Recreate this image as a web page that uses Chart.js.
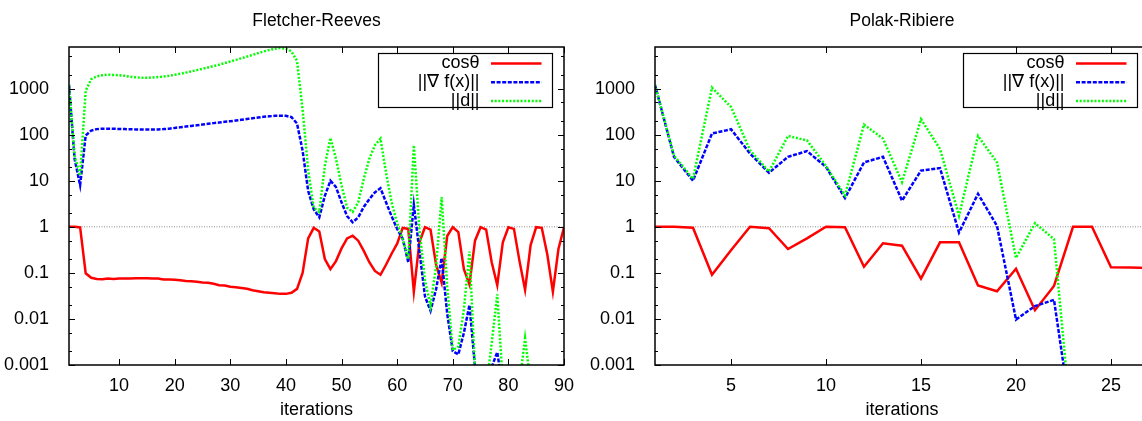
<!DOCTYPE html>
<html>
<head>
<meta charset="utf-8">
<script src="https://cdn.jsdelivr.net/npm/chart.js@4.4.1/dist/chart.umd.min.js"></script>
<style>
  html, body { margin: 0; padding: 0; background: #fff; overflow: hidden; }
  body { width: 1142px; height: 421px; position: relative; }
  .panel { position: absolute; top: 0; }
</style>
</head>
<body>
<div class="panel" style="left:0"><canvas id="fr" width="580" height="421"></canvas></div>
<div class="panel" style="left:585px"><canvas id="pr" width="580" height="421"></canvas></div>
<script>
// Fletcher-Reeves, iterations 1..90
const frCos = [1.0, 1.0, 0.97, 0.098, 0.078, 0.074, 0.073, 0.075, 0.074, 0.075,
  0.075, 0.075, 0.076, 0.076, 0.076, 0.075, 0.075, 0.072, 0.072, 0.071,
  0.069, 0.067, 0.066, 0.064, 0.062, 0.061, 0.058, 0.054, 0.053, 0.050,
  0.049, 0.047, 0.045, 0.042, 0.040, 0.038, 0.037, 0.036, 0.035, 0.035,
  0.037, 0.045, 0.10, 0.56, 0.95, 0.79, 0.20, 0.12, 0.18, 0.34,
  0.56, 0.64, 0.50, 0.30, 0.17, 0.11, 0.091, 0.15, 0.26, 0.43,
  0.95, 0.90, 0.039, 0.46, 0.98, 0.87, 0.15, 0.061, 0.63, 0.98,
  0.77, 0.12, 0.056, 0.50, 0.98, 0.87, 0.17, 0.054, 0.46, 0.98,
  0.90, 0.18, 0.043, 0.40, 0.98, 0.95, 0.25, 0.039, 0.33, 0.98];
const frGrad = [1200, 30, 8, 96, 123, 132, 135, 135, 134, 133,
  132, 131, 130, 129, 129, 129, 130, 132, 135, 140,
  145, 150, 155, 160, 166, 172, 178, 184, 190, 196,
  203, 211, 219, 228, 236, 244, 250, 256, 258, 256,
  240, 175, 45, 6, 2.4, 1.6, 4.7, 10, 7.3, 3.4,
  1.7, 1.25, 1.6, 2.7, 4, 5.6, 6.9, 3.4, 1.7, 0.9,
  0.55, 0.17, 3.0, 0.3, 0.031, 0.015, 0.044, 0.21, 0.013, 0.002,
  0.0017, 0.005, 0.02, 0.0009, 0.0002, 0.0001, 0.0009, 0.0019, 0.0003, 0.0002,
  0.0001, 0.0001, 0.00008, 0.00008, 0.00006, 0.00005, 0.00005, 0.00004, 0.00004, 0.00003];
const frDir = [1200, 35, 13, 900, 1600, 1850, 1950, 2000, 1980, 1950,
  1900, 1800, 1760, 1720, 1720, 1740, 1780, 1830, 1900, 1990,
  2100, 2220, 2370, 2520, 2690, 2880, 3080, 3300, 3580, 3880,
  4200, 4550, 4950, 5400, 5900, 6400, 6900, 7300, 7600, 7400,
  6400, 4000, 350, 17, 2.6, 2.1, 21, 85, 30, 7.9,
  2.6, 2.1, 3.4, 11, 30, 59, 82, 15, 3.4, 1.2,
  0.54, 0.2, 59, 0.9, 0.07, 0.019, 0.14, 4.4, 0.05, 0.0021,
  0.0025, 0.016, 0.29, 0.0008, 0.0002, 0.0003, 0.003, 0.034, 0.0004, 0.0002,
  0.0001, 0.0004, 0.0038, 0.0004, 0.0001, 0.0001, 0.00008, 0.00006, 0.00005, 0.00004];

// Polak-Ribiere, iterations 1..27
const prCos = [1.0, 1.0, 0.95, 0.091, 0.31, 1.0, 0.93, 0.33, 0.56, 1.0,
  0.98, 0.136, 0.44, 0.39, 0.075, 0.46, 0.46, 0.053, 0.040, 0.123,
  0.0155, 0.052, 1.0, 1.0, 0.132, 0.13, 0.128];
const prGrad = [1200, 33, 10, 106, 131, 39, 14.9, 33, 44, 20,
  4.2, 25, 33, 3.7, 16.6, 18.8, 0.75, 5.2, 1.05, 0.0097,
  0.019, 0.026, 0.00004, 0.00002, 0.00001, 0.00001, 0.00001];
const prDir = [1200, 35, 11, 1050, 400, 46, 15.8, 94, 75, 21,
  4.8, 166, 82, 9.3, 217, 49, 1.74, 94, 25, 0.21,
  1.2, 0.54, 0.00002, 0.00001, 0.00001, 0.00001, 0.00001];

const frXTicks = [10, 20, 30, 40, 50, 60, 70, 80, 90];
const prXTicks = [5, 10, 15, 20, 25];
const yTicks = [0.001, 0.01, 0.1, 1, 10, 100, 1000];
const yMinorTicks = [0.002, 0.005, 0.02, 0.05, 0.2, 0.5, 2, 5, 20, 50, 200, 500, 2000, 5000];
const legendLabels = ['cosθ', '||∇ f(x)||', '||d||'];

const FONT = '"Liberation Sans", Arial, Helvetica, sans-serif';
const RED = '#ff0000', BLUE = '#0000ff', GREEN = '#00ff00';
const DASH_BLUE = [4, 1.6], DASH_GREEN = [2, 1.7];

// gnuplot-like frame: inward ticks on all sides, border, titles, key box
const gnuFrame = {
  id: 'gnuFrame',
  afterDatasetsDraw(chart, args, opts) {
    const { ctx, chartArea: a, scales: { x, y } } = chart;
    ctx.save();
    ctx.strokeStyle = '#000';
    ctx.lineWidth = 1;
    ctx.setLineDash([]);
    ctx.beginPath();
    const yTick = (v, len) => {
      const p = Math.round(y.getPixelForValue(v)) + 0.5;
      ctx.moveTo(a.left, p); ctx.lineTo(a.left + len, p);
      ctx.moveTo(a.right, p); ctx.lineTo(a.right - len, p);
    };
    yTicks.forEach(v => yTick(v, 6));
    yMinorTicks.forEach(v => yTick(v, 3));
    opts.xTicks.forEach(v => {
      const p = Math.round(x.getPixelForValue(v)) + 0.5;
      ctx.moveTo(p, a.bottom); ctx.lineTo(p, a.bottom - 6);
      ctx.moveTo(p, a.top); ctx.lineTo(p, a.top + 6);
    });
    ctx.stroke();

    ctx.lineWidth = 1.5;
    ctx.strokeRect(a.left, a.top, a.right - a.left, a.bottom - a.top);

    const cx = (a.left + a.right) / 2;
    ctx.fillStyle = '#000';
    ctx.textAlign = 'center';
    ctx.textBaseline = 'middle';
    ctx.font = '17.5px ' + FONT;
    ctx.fillText(opts.title, cx, 21);
    ctx.font = '18px ' + FONT;
    ctx.fillText('iterations', cx, 410);

    // key
    const bw = 174, bh = 54;
    const bx = a.right - 11.5 - bw, by = a.top + 6.5;
    ctx.lineWidth = 1.2;
    ctx.strokeRect(bx, by, bw, bh);
    const styles = [[RED, []], [BLUE, DASH_BLUE], [GREEN, DASH_GREEN]];
    ctx.textAlign = 'right';
    ctx.font = '18px ' + FONT;
    legendLabels.forEach((t, i) => {
      const ly = by + 10 + i * 18.7;
      ctx.fillStyle = '#000';
      ctx.fillText(t, bx + 101, ly);
      ctx.beginPath();
      ctx.strokeStyle = styles[i][0];
      ctx.lineWidth = 2.5;
      ctx.setLineDash(styles[i][1]);
      ctx.moveTo(bx + 112.5, ly);
      ctx.lineTo(bx + 163, ly);
      ctx.stroke();
    });
    ctx.restore();
  }
};

function series(vals, color, dash, order) {
  return {
    data: vals.map((v, i) => ({ x: i + 1, y: v })),
    borderColor: color, borderWidth: 2.5, borderDash: dash,
    pointRadius: 0, tension: 0, fill: false, clip: 0, order
  };
}

function makeChart(id, title, cos, grad, dir, xMax, xTicks, yWidth) {
  const tickFont = { family: FONT, size: 18 };
  return new Chart(document.getElementById(id), {
    type: 'line',
    data: {
      datasets: [
        series(dir, GREEN, DASH_GREEN, 0),
        series(grad, BLUE, DASH_BLUE, 1),
        series(cos, RED, [], 2),
        { data: [{ x: 1, y: 1 }, { x: xMax, y: 1 }], borderColor: '#8c8c8c', borderWidth: 1,
          borderDash: [1, 1.5], pointRadius: 0, clip: 0, order: 9 }
      ]
    },
    options: {
      responsive: false,
      animation: false,
      events: [],
      layout: { padding: { top: 47, right: 16, left: 0, bottom: 0 } },
      plugins: {
        legend: { display: false },
        tooltip: { enabled: false },
        gnuFrame: { title, xTicks }
      },
      scales: {
        x: {
          type: 'linear', min: 1, max: xMax,
          afterFit: s => { s.height = 56; },
          afterBuildTicks: s => { s.ticks = xTicks.map(v => ({ value: v })); },
          grid: { display: false }, border: { display: false },
          ticks: { color: '#000', font: tickFont, padding: 2, maxRotation: 0, autoSkip: false }
        },
        y: {
          type: 'logarithmic', min: 0.001, max: 8000,
          afterFit: s => { s.width = yWidth; },
          afterBuildTicks: s => { s.ticks = yTicks.map(v => ({ value: v })); },
          grid: { display: false }, border: { display: false },
          ticks: { color: '#000', font: tickFont, padding: 12, autoSkip: false, callback: v => String(v) }
        }
      }
    },
    plugins: [gnuFrame]
  });
}

makeChart('fr', 'Fletcher-Reeves', frCos, frGrad, frDir, 90, frXTicks, 69);
makeChart('pr', 'Polak-Ribiere', prCos, prGrad, prDir, 27, prXTicks, 70);
</script>
</body>
</html>
